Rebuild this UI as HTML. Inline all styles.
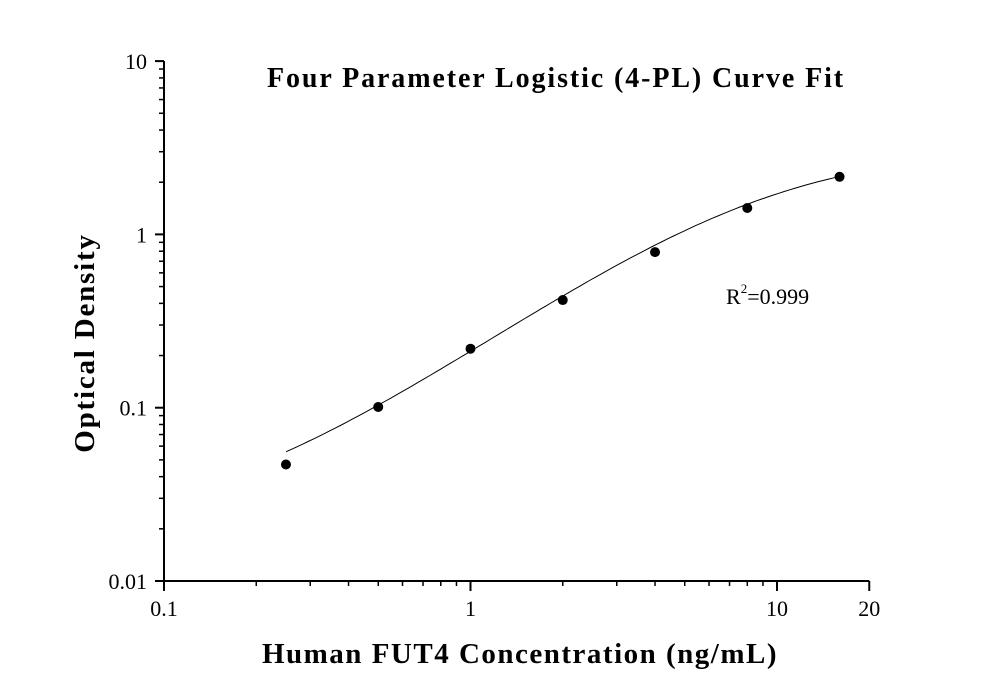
<!DOCTYPE html>
<html><head><meta charset="utf-8"><style>
html,body{margin:0;padding:0;background:#fff;}
svg text{font-family:"Liberation Serif",serif;fill:#000;}
</style></head><body>
<svg id="chart" width="1008" height="693" viewBox="0 0 1008 693" xmlns="http://www.w3.org/2000/svg">
<text x="556" y="87" text-anchor="middle" font-size="28" font-weight="bold" letter-spacing="1.9">Four Parameter Logistic (4-PL) Curve Fit</text>
<text x="520" y="663" text-anchor="middle" font-size="29" font-weight="bold" letter-spacing="1.5">Human FUT4 Concentration (ng/mL)</text>
<text transform="translate(94,343) rotate(-90)" text-anchor="middle" font-size="29" font-weight="bold" letter-spacing="1.8">Optical Density</text>
<text x="726" y="304" font-size="22">R<tspan font-size="13" dy="-11">2</tspan><tspan dy="11">=0.999</tspan></text>
<g id="axes"></g>
<g id="marks"></g>
</svg>
<script>
const concentrations = [0.25, 0.5, 1, 2, 4, 8, 16];
const odValues = [0.047, 0.101, 0.219, 0.418, 0.79, 1.42, 2.15];
const fitParamsA = [0.02];
const fitParamsB = [1.25];
const fitParamsC = [9];
const fitParamsD = [3.2];
const xTickValues = [0.1, 1, 10, 20];
const xTickLabels = ["0.1", "1", "10", "20"];
const yTickValues = [0.01, 0.1, 1, 10];
const yTickLabels = ["0.01", "0.1", "1", "10"];

const X0 = 164, XD = 306.5, Y0 = 581, YD = 173.3;
function xs(v){ return X0 + (Math.log10(v) + 1) * XD; }
function ys(v){ return Y0 - (Math.log10(v) + 2) * YD; }
const NS = "http://www.w3.org/2000/svg";
function mk(tag, attrs, parent){ const e = document.createElementNS(NS, tag); for (const k in attrs) e.setAttribute(k, attrs[k]); parent.appendChild(e); return e; }
const axes = document.getElementById('axes');
const marks = document.getElementById('marks');

let l = mk('line', {x1:X0, y1:Y0, x2:xs(20), y2:Y0, stroke:'#000','stroke-width':2}, axes);


l = mk('line', {x1:X0, y1:Y0+1, x2:X0, y2:ys(10), stroke:'#000','stroke-width':2}, axes);



for (let d = 0.1; d < 20; d *= 10) {
  for (let m = 2; m <= 9; m++) {
    const v = d * m; if (v > 20) continue;
    if (xTickValues.includes(Math.round(v*1000)/1000)) continue;
    const t = mk('line', {x1:xs(v), y1:Y0, x2:xs(v), y2:Y0+5, stroke:'#000','stroke-width':1.5}, axes);
    
    
  }
}
xTickValues.forEach((v, i) => {
  const t = mk('line', {x1:xs(v), y1:Y0, x2:xs(v), y2:Y0+10, stroke:'#000','stroke-width':2}, axes);
  
  
  const tx = mk('text', {x:xs(v), y:Y0+35, 'text-anchor':'middle','font-size':22}, axes);
  tx.textContent = xTickLabels[i];
  
  
});
for (let d = 0.01; d < 10; d *= 10) {
  for (let m = 2; m <= 9; m++) {
    const t = mk('line', {x1:X0-5, y1:ys(d*m), x2:X0, y2:ys(d*m), stroke:'#000','stroke-width':1.5}, axes);
    
    
  }
}
yTickValues.forEach((v, i) => {
  const t = mk('line', {x1:X0-9, y1:ys(v), x2:X0, y2:ys(v), stroke:'#000','stroke-width':2}, axes);
  
  
  const tx = mk('text', {x:X0-17, y:ys(v)+8, 'text-anchor':'end','font-size':22}, axes);
  tx.textContent = yTickLabels[i];
  
  
});

function fit(x){ const a=fitParamsA[0], b=fitParamsB[0], c=fitParamsC[0], d=fitParamsD[0]; return d + (a - d) / (1 + Math.pow(x / c, b)); }
let pts = [];
const lo = Math.log10(concentrations[0]), hi = Math.log10(concentrations[concentrations.length-1]);
for (let i = 0; i <= 100; i++) { const x = Math.pow(10, lo + (hi - lo) * i / 100); pts.push(xs(x).toFixed(1) + ',' + ys(fit(x)).toFixed(1)); }
const curve = mk('polyline', {points: pts.join(' '), fill:'none', stroke:'#000', 'stroke-width':1}, marks);



concentrations.forEach((c, i) => {
  const p = mk('circle', {cx:xs(c), cy:ys(odValues[i]), r:5, fill:'#000'}, marks);
  
  
});
</script>
</body></html>
